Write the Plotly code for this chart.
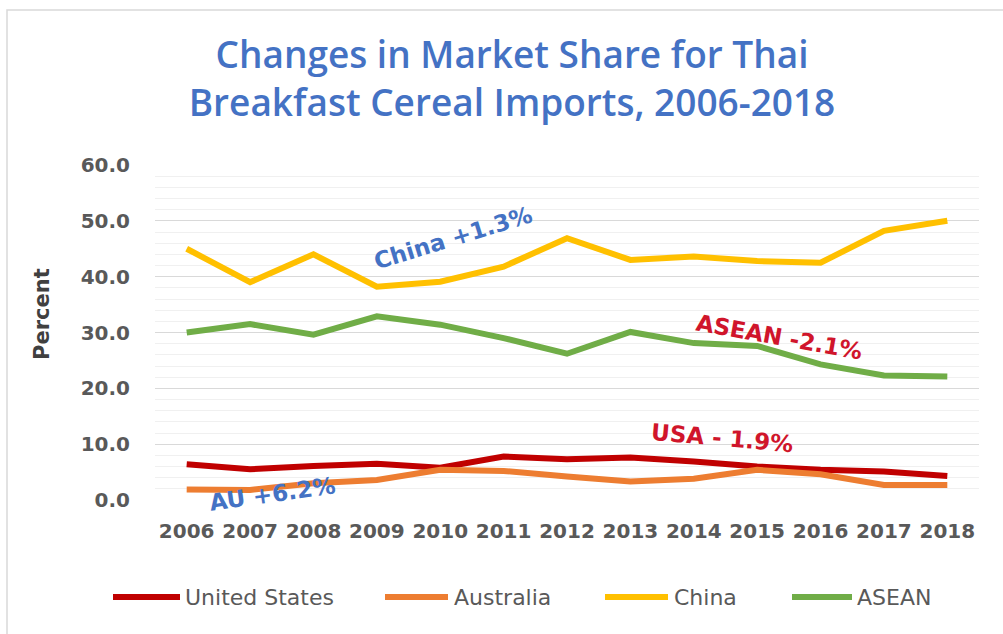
import plotly.graph_objects as go

years = list(range(2006, 2019))
year_labels = [str(y) for y in years]

united_states = [6.4, 5.5, 6.1, 6.5, 5.8, 7.8, 7.3, 7.6, 6.9, 6.0, 5.4, 5.1, 4.3]
australia = [1.9, 1.8, 3.0, 3.6, 5.4, 5.2, 4.2, 3.3, 3.8, 5.4, 4.6, 2.7, 2.7]
china = [45.0, 39.0, 44.0, 38.2, 39.1, 41.8, 46.9, 43.0, 43.6, 42.8, 42.5, 48.2, 50.0]
asean = [30.0, 31.5, 29.6, 32.9, 31.4, 29.0, 26.2, 30.1, 28.1, 27.6, 24.3, 22.3, 22.1]

series_names = ["United States", "Australia", "China", "ASEAN"]
series_values = [united_states, australia, china, asean]
series_colors = ["#C00000", "#ED7D31", "#FFC000", "#70AD47"]

y_ticks = [0, 10, 20, 30, 40, 50, 60]

# annotation labels: (text, x year, y value, angle, colour)
notes = [
    ("China +1.3%", 2010.2, 46.9, -17, "#4472C4"),
    ("ASEAN -2.1%", 2015.35, 29.2, 10, "#D0152B"),
    ("USA - 1.9%", 2014.45, 11.1, 5, "#D0152B"),
    ("AU +6.2%", 2007.35, 1.1, -8, "#4472C4"),
]

W, H = 1003, 634
ML, MR, MT, MB = 155, 24, 165, 134
PW, PH = W - ML - MR, H - MT - MB


def px_x(px):
    return (px - ML) / PW


def px_y(py):
    return (H - MB - py) / PH


fig = go.Figure()
for name, vals, col in zip(series_names, series_values, series_colors):
    fig.add_trace(go.Scatter(
        x=years, y=vals, name=name, mode="lines",
        line=dict(color=col, width=6),
        showlegend=False,
    ))

annotations = []
for text, xv, yv, ang, col in notes:
    annotations.append(dict(
        x=xv, y=yv, xref="x", yref="y", text=text, showarrow=False,
        textangle=ang, font=dict(family="DejaVu Sans", size=23, color=col, weight="bold"),
    ))

# y axis title
annotations.append(dict(x=px_x(42), y=px_y(314), xref="paper", yref="paper", text="Percent",
                        showarrow=False, textangle=-90, xanchor="center", yanchor="middle",
                        font=dict(family="DejaVu Sans", size=21, color="#404040", weight="bold")))

# custom legend (layout)
legend_pos = [(113, 180, 183), (385, 448, 452), (605, 668, 672), (792, 852, 855)]
legend_y = 597
shapes = []
for (x0, x1, xt), name, col in zip(legend_pos, series_names, series_colors):
    shapes.append(dict(type="line", xref="paper", yref="paper",
                       x0=px_x(x0), x1=px_x(x1), y0=px_y(legend_y), y1=px_y(legend_y),
                       line=dict(color=col, width=6)))
    annotations.append(dict(x=px_x(xt), y=px_y(legend_y), xref="paper", yref="paper",
                            xanchor="left", yanchor="middle", showarrow=False, text=name,
                            font=dict(family="DejaVu Sans", size=22, color="#595959")))

# outer border
shapes.append(dict(type="rect", xref="paper", yref="paper",
                   x0=px_x(7), x1=px_x(1010), y0=px_y(645), y1=px_y(10),
                   line=dict(color="#D9D9D9", width=1.5), layer="below"))

fig.update_layout(
    width=W, height=H,
    margin=dict(l=ML, r=MR, t=MT, b=MB),
    paper_bgcolor="white", plot_bgcolor="white",
    title=dict(
        text="Changes in Market Share for Thai<br>Breakfast Cereal Imports, 2006-2018",
        x=512 / W, xanchor="center", y=1 - 68 / H, yanchor="top",
        font=dict(family="Open Sans", size=37, color="#4472C4", weight=600),
    ),
    xaxis=dict(
        range=[2005.5, 2018.5], tickmode="array", tickvals=years, ticktext=year_labels,
        showgrid=False, zeroline=False, showline=False,
        tickfont=dict(family="DejaVu Sans", size=20, color="#595959", weight="bold"),
        ticklabelstandoff=17,
    ),
    yaxis=dict(
        range=[0, 60], tickmode="array", tickvals=y_ticks, ticktext=[f"{v:.1f}" for v in y_ticks],
        showgrid=True, gridcolor="#D9D9D9", gridwidth=1, zeroline=False, showline=False,
        minor=dict(dtick=2, showgrid=True, gridcolor="#F0F0F0", gridwidth=1),
        tickfont=dict(family="DejaVu Sans", size=20, color="#595959", weight="bold"),
        ticklabelstandoff=24,
    ),
    annotations=annotations,
    shapes=shapes,
)

fig.write_html("out.html", config={"displayModeBar": False},
               post_script="document.body.style.margin='0px';")
